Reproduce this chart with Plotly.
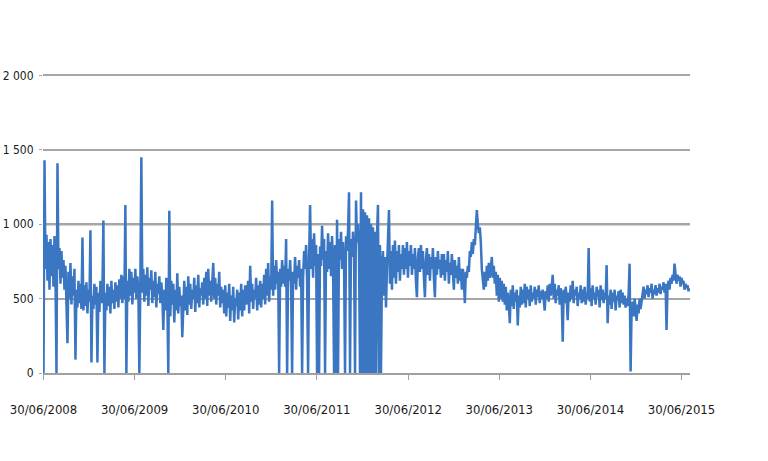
import pandas as pd
import plotly.graph_objects as go

start_date = "2008-06-30"
step_days = 4
values = [
    0, 1430, 700, 930, 620, 880, 560, 900, 650, 860, 580, 920, 640, 0, 1410, 700, 840, 600, 820, 640,
    760, 560, 720, 480, 200, 680, 500, 740, 460, 650, 520, 700, 90, 560, 440, 620, 470, 600, 430, 910,
    420, 590, 450, 610, 400, 560, 480, 960, 70, 520, 430, 600, 460, 580, 70, 540, 410, 620, 470, 560,
    1025, 0, 540, 420, 600, 450, 580, 400, 620, 470, 560, 430, 610, 480, 590, 440, 630, 500, 660, 470,
    650, 500, 1130, 0, 620, 480, 700, 520, 680, 460, 640, 540, 700, 500, 650, 560, 0, 620, 1450, 540,
    700, 480, 660, 520, 710, 450, 640, 560, 690, 470, 620, 510, 680, 440, 600, 530, 650, 470, 610, 520,
    290, 560, 420, 640, 500, 0, 1090, 380, 620, 460, 600, 340, 560, 420, 670, 400, 580, 450, 520, 240,
    480, 620, 420, 580, 390, 650, 460, 600, 430, 560, 500, 640, 410, 590, 470, 660, 440, 570, 520, 610,
    460, 640, 500, 680, 450, 700, 520, 620, 480, 660, 740, 500, 640, 460, 600, 520, 680, 440, 580, 470,
    560, 400, 590, 380, 540, 440, 600, 350, 520, 420, 580, 340, 500, 450, 560, 360, 540, 420, 600, 380,
    560, 420, 590, 460, 540, 620, 400, 720, 480, 600, 430, 560, 500, 640, 420, 590, 460, 620, 440, 600,
    500, 660, 460, 700, 520, 740, 480, 650, 560, 1160, 520, 720, 560, 760, 600, 680, 0, 700, 580, 760,
    600, 720, 580, 900, 0, 700, 620, 760, 580, 0, 680, 600, 780, 560, 720, 640, 760, 580, 700, 0,
    640, 820, 700, 860, 620, 0, 780, 1130, 700, 900, 640, 940, 720, 860, 0, 800, 0, 850, 720, 990,
    760, 900, 0, 820, 680, 940, 700, 880, 650, 920, 720, 0, 860, 0, 1030, 0, 900, 760, 950, 700,
    880, 760, 0, 920, 820, 950, 1215, 0, 900, 780, 950, 820, 0, 1160, 880, 1000, 820, 0, 1215, 0,
    1100, 0, 1080, 0, 1060, 0, 1040, 0, 1000, 0, 980, 0, 950, 0, 920, 1130, 0, 860, 0, 700,
    820, 520, 780, 440, 700, 860, 1095, 600, 820, 560, 860, 640, 890, 600, 820, 680, 860, 620, 800, 700,
    860, 660, 840, 700, 880, 640, 820, 720, 860, 660, 800, 700, 840, 620, 510, 780, 840, 680, 860, 700,
    820, 640, 510, 760, 840, 660, 800, 620, 780, 700, 840, 640, 510, 780, 660, 820, 700, 760, 640, 800,
    660, 800, 620, 760, 680, 820, 600, 740, 660, 800, 620, 560, 760, 640, 720, 600, 780, 620, 700, 560,
    700, 620, 470, 680, 640, 720, 680, 820, 780, 880, 800, 900, 860, 960, 1095, 1000, 940, 980, 880, 700,
    600, 560, 680, 580, 720, 620, 740, 640, 700, 780, 640, 720, 600, 680, 520, 660, 480, 640, 500, 620,
    480, 600, 460, 580, 420, 540, 470, 335, 560, 450, 590, 430, 540, 480, 560, 320, 520, 440, 580, 460,
    560, 470, 600, 440, 580, 500, 560, 450, 590, 480, 540, 500, 580, 460, 560, 510, 590, 470, 550, 500,
    560, 480, 420, 550, 500, 590, 480, 600, 520, 580, 660, 500, 600, 470, 560, 520, 590, 460, 570, 500,
    210, 560, 470, 580, 500, 355, 540, 480, 590, 500, 620, 470, 560, 520, 580, 450, 540, 500, 590, 470,
    560, 480, 580, 460, 540, 500, 840, 480, 570, 450, 590, 500, 540, 460, 580, 510, 560, 440, 590, 490,
    560, 470, 540, 500, 725, 335, 520, 460, 560, 430, 540, 480, 560, 420, 520, 490, 550, 440, 560, 470,
    540, 460, 520, 440, 500, 450, 530, 735, 10, 420, 480, 380, 500, 440, 350, 460, 400, 500, 430, 480,
    520, 580, 500, 560, 530, 590, 510, 570, 540, 600, 500, 560, 530, 590, 520, 570, 540, 600, 530, 580,
    560, 610, 540, 600, 290, 580, 620, 560, 640, 600, 660, 620, 735, 640, 600, 660, 620, 650, 580, 640,
    600, 620, 560, 600, 570, 590, 550, 570,
]
dates = pd.date_range(start_date, periods=len(values), freq=f"{step_days}D")

x_tick_dates = ["2008-06-30", "2009-06-30", "2010-06-30", "2011-06-30",
                "2012-06-30", "2013-06-30", "2014-06-30", "2015-06-30"]
x_tick_labels = ["30/06/2008", "30/06/2009", "30/06/2010", "30/06/2011",
                 "30/06/2012", "30/06/2013", "30/06/2014", "30/06/2015"]
y_tick_vals = [0, 500, 1000, 1500, 2000]
y_tick_labels = ["0", "500", "1 000", "1 500", "2 000"]

font_family = "Liberation Sans Narrow, DejaVu Sans Condensed, Arial Narrow, sans-serif"

fig = go.Figure()
fig.add_trace(go.Scatter(
    x=dates, y=values, mode="lines",
    line=dict(color="#3a76c2", width=2.5),
    showlegend=False, hoverinfo="x+y",
))

fig.add_hline(y=1000, line=dict(color="#555555", width=2), layer="below")

fig.update_layout(
    width=768, height=461,
    margin=dict(l=43, r=78, t=74, b=88),
    paper_bgcolor="white", plot_bgcolor="white",
    font=dict(family=font_family, size=13, color="#1a1a1a"),
)
fig.update_xaxes(
    range=["2008-06-28", "2015-08-03"],
    tickvals=x_tick_dates, ticktext=x_tick_labels,
    showgrid=False, showline=True, linecolor="#a0a0a0", linewidth=1.5,
    ticks="outside", ticklen=5, tickcolor="#a0a0a0",
    ticklabelstandoff=19, tickfont=dict(size=13),
    zeroline=False, automargin=False,
)
fig.update_yaxes(
    range=[0, 2010],
    tickvals=y_tick_vals, ticktext=y_tick_labels,
    showgrid=True, gridcolor="#a6a6a6", gridwidth=1.5,
    showline=False, zeroline=False,
    ticks="outside", ticklen=3, tickcolor="#a6a6a6",
    ticklabelstandoff=3, tickfont=dict(size=12),
    automargin=False,
)

fig.write_html("out.html", config={"displayModeBar": False},
               post_script="document.body.style.margin='0px';")
